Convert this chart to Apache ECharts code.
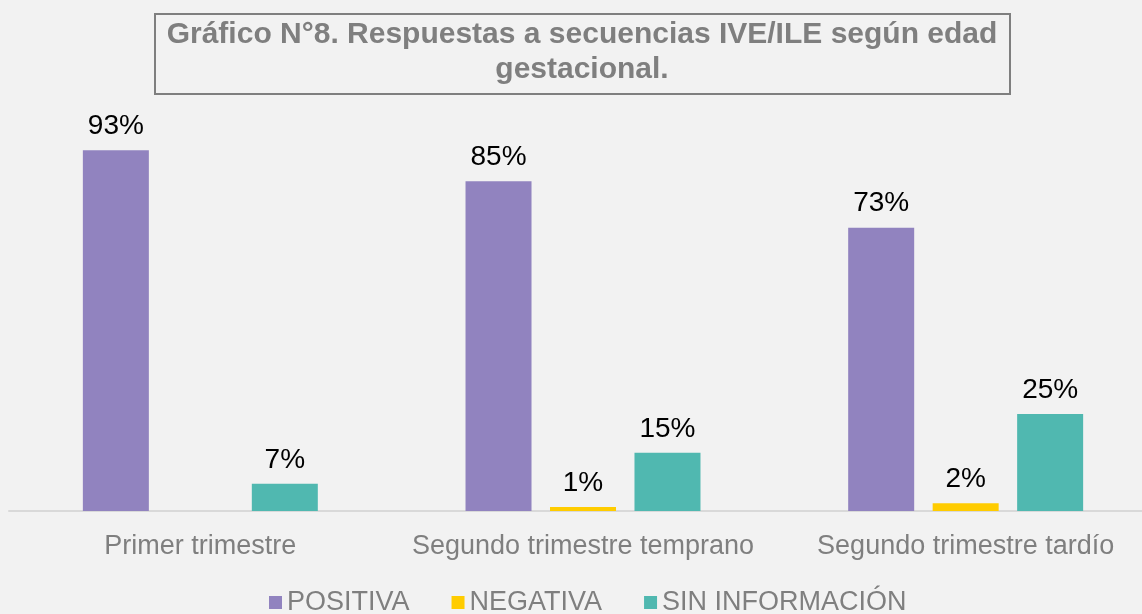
<!DOCTYPE html>
<html lang="es">
<head>
	<meta charset="UTF-8">
	<title>Gráfico N°8</title>
	<script src="https://cdn.jsdelivr.net/npm/echarts@6/dist/echarts.min.js"></script>
	<style>
		html,body{margin:0;padding:0;background:#f2f2f2;overflow:hidden;}
		#chart{width:1160px;height:614px;}
	</style>
</head>
<body>
	<div id="chart"></div>
	<script>
		var categories = ['Primer trimestre', 'Segundo trimestre temprano', 'Segundo trimestre tardío'];
		var positiva = [93, 85, 73];
		var negativa = [0, 1, 2];
		var sinInfo = [7, 15, 25];

		var font = 'Liberation Sans, Arial, sans-serif';

		function labelFmt(p){
			return p.value > 0 ? p.value + '%' : '';
		}
		function mkSeries(name, data, color){
			return {
				name: name,
				type: 'bar',
				data: data,
				barWidth: 66,
				barGap: '28%',
				itemStyle: {color: color},
				label: {
					show: true,
					position: 'top',
					distance: 10,
					formatter: labelFmt,
					color: '#000',
					fontSize: 28,
					fontFamily: font
				}
			};
		}

		// plot is a bit wider than the window, like the cropped original
		var chart = echarts.init(document.getElementById('chart'));
		chart.setOption({
			backgroundColor: '#f2f2f2',
			animation: false,
			graphic: [{
				type: 'rect',
				shape: {x: 155, y: 14, width: 855, height: 80},
				style: {fill: '#f2f2f2', stroke: '#7f7f7f', lineWidth: 2}
			}, {
				type: 'text',
				x: 582,
				y: 17,
				style: {
					text: 'Gráfico N°8. Respuestas a secuencias IVE/ILE según edad\ngestacional.',
					align: 'center',
					verticalAlign: 'top',
					font: 'bold 30px ' + font,
					lineHeight: 35,
					fill: '#7f7f7f'
				}
			}],
			legend: {
				bottom: -7,
				left: 264,
				itemWidth: 13,
				itemHeight: 13,
				itemGap: 42,
				icon: 'rect',
				textStyle: {fontFamily: font, fontSize: 27, color: '#7f7f7f'},
				data: ['POSITIVA', 'NEGATIVA', 'SIN INFORMACIÓN']
			},
			grid: {left: 9, right: 3, top: 123, bottom: 103},
			xAxis: {
				type: 'category',
				data: categories,
				axisLine: {lineStyle: {color: '#d9d9d9', width: 2}},
				axisTick: {show: false},
				axisLabel: {interval: 0, fontFamily: font, fontSize: 27, color: '#7f7f7f', margin: 22}
			},
			yAxis: {
				type: 'value',
				min: 0,
				max: 100,
				show: false
			},
			series: [
				mkSeries('POSITIVA', positiva, '#9183bf'),
				mkSeries('NEGATIVA', negativa, '#ffcc00'),
				mkSeries('SIN INFORMACIÓN', sinInfo, '#50b8b0')
			]
		});
	</script>
</body>
</html>
